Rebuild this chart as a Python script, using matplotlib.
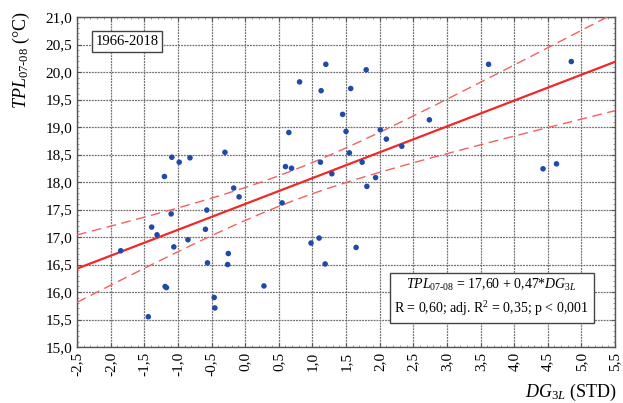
import numpy as np
import matplotlib
matplotlib.use("Agg")
import matplotlib.pyplot as plt
from matplotlib.ticker import MultipleLocator, FuncFormatter

plt.rcParams['font.family'] = ['Liberation Serif', 'DejaVu Serif']
plt.rcParams['mathtext.fontset'] = 'custom'
plt.rcParams['mathtext.rm'] = 'Liberation Serif'
plt.rcParams['mathtext.it'] = 'Liberation Serif:italic'

# DG3L index (STD) and July-August temperature TPL07-08 (°C), 1966-2018
dg3l = [-1.09, -0.98, -0.82, -1.20, -0.30, -0.17, -0.09, -0.57, -1.10, -1.39,
        -1.31, -0.59, -0.85, -1.06, -1.85, -0.25, -0.26, -0.56, -1.19, -1.17,
        -0.46, -0.45, -1.44, 0.28, 1.20, 1.80, 0.81, 1.13, 1.57, 1.45,
        0.65, 1.50, 2.01, 2.10, 2.33, 1.55, 1.12, 0.60, 0.69, 1.74,
        1.29, 1.94, 1.81, 2.74, 0.55, 0.98, 1.10, 1.19, 1.65, 3.62,
        4.85, 4.43, 4.63]
tpl = [18.45, 18.36, 18.44, 18.10, 18.54, 17.89, 17.73, 17.49, 17.42, 17.18,
       17.04, 17.14, 16.95, 16.82, 16.75, 16.70, 16.50, 16.53, 16.10, 16.08,
       15.90, 15.71, 15.55, 16.11, 20.14, 20.04, 19.82, 19.66, 19.70, 19.23,
       18.90, 18.92, 18.95, 18.78, 18.65, 18.53, 18.36, 18.28, 18.25, 18.36,
       18.15, 18.08, 17.92, 19.13, 17.62, 16.89, 16.98, 16.51, 16.81, 20.14,
       20.19, 18.24, 18.33]

intercept = 17.60
slope = 0.47
period = "1966-2018"

x = np.array(dg3l)
y = np.array(tpl)
n = len(x)

fig = plt.figure(figsize=(6.23, 4.03), dpi=100)
ax = fig.add_axes([77/623, 1 - 347/403, 538/623, 330/403])

# fitted line with 95% confidence band of the mean
xs = np.linspace(-2.5, 5.5, 200)
fit = intercept + slope * xs
resid = y - (intercept + slope * x)
s = np.sqrt(np.sum(resid**2) / (n - 2))
sxx = np.sum((x - x.mean())**2)
t95 = 2.008
half = t95 * s * np.sqrt(1/n + (xs - x.mean())**2 / sxx)

ax.plot(xs, fit, color='#f02828', lw=1.6, zorder=3)
ax.plot(xs, fit + half, color='#f46060', lw=1.0, dashes=(7, 4), zorder=3)
ax.plot(xs, fit - half, color='#f46060', lw=1.0, dashes=(7, 4), zorder=3)
ax.scatter(x, y, s=16, color='#1f4aa8', edgecolors='none', zorder=4)

ax.set_xlim(-2.5, 5.5)
ax.set_ylim(15.0, 21.0)
ax.xaxis.set_major_locator(MultipleLocator(0.5))
ax.yaxis.set_major_locator(MultipleLocator(0.5))
ax.xaxis.set_minor_locator(MultipleLocator(0.1))
ax.yaxis.set_minor_locator(MultipleLocator(0.1))
fmt = FuncFormatter(lambda v, p: f"{v:.1f}".replace('.', ','))
ax.xaxis.set_major_formatter(fmt)
ax.yaxis.set_major_formatter(fmt)
ax.grid(True, which='major', color='#707070', linestyle=(0, (1.5, 0.8)), lw=0.9)
ax.tick_params(which='major', direction='in', length=3, color='#555555',
               labelsize=11, top=True, right=True)
ax.tick_params(which='minor', direction='in', length=1.5, color='#888888',
               top=True, right=True)
for lab in ax.get_xticklabels():
    lab.set_rotation(90)
for sp in ax.spines.values():
    sp.set_color('#555555')
    sp.set_linewidth(1.0)

fig.text(21/623, 1 - 60/403, r'$\mathit{TPL}_{\mathrm{07\text{-}08}}$ (°C)',
         rotation=90, ha='center', va='center', fontsize=13)
fig.text(617/623, 1 - 392/403, r'$\mathit{DG}_{\mathit{3L}}$ (STD)',
         ha='right', va='center', fontsize=13)

ax.text(0.034, 0.926, period, transform=ax.transAxes, fontsize=10.5,
        ha='left', va='center',
        bbox=dict(boxstyle='square,pad=0.25', fc='white', ec='#444444', lw=1.0))
ax.text(0.771, 0.15,
        r'$\mathit{TPL}_{\mathrm{07\text{-}08}}$ = 17,60 + 0,47*$\mathit{DG}_{\mathit{3L}}$'
        '\n' r'R = 0,60; adj. R$^2$ = 0,35; p < 0,001',
        transform=ax.transAxes, fontsize=10, ha='center', va='center',
        linespacing=1.45,
        bbox=dict(boxstyle='square,pad=0.35', fc='white', ec='#444444', lw=1.0))

fig.savefig('out.png', dpi=100)
